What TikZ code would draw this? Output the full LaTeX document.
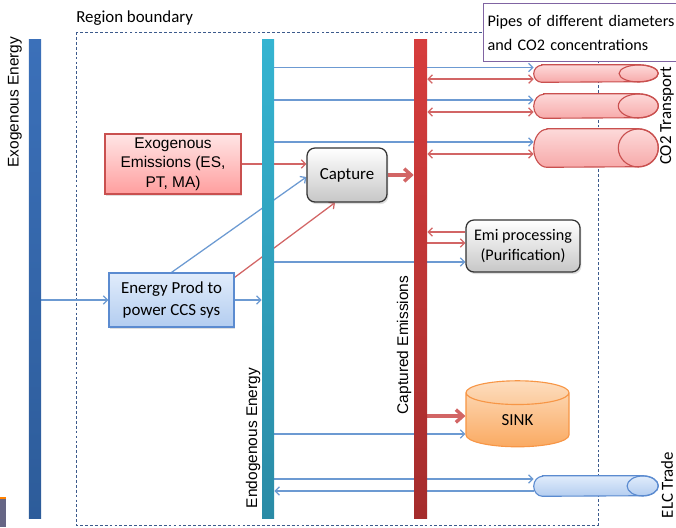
\documentclass[tikz,border=0pt]{standalone}
\usepackage{fontspec}
\setmainfont{Carlito}
\newfontfamily\arialfont{Liberation Sans}
\usetikzlibrary{
  arrows.meta,
  shapes.geometric,
  shadows,
  backgrounds
}

\definecolor{exoblue}{HTML}{3B70B9}
\definecolor{exobluedk}{HTML}{2D5C9A}
\definecolor{endocyan}{HTML}{35B4D1}
\definecolor{endocyandk}{HTML}{2A8BA6}
\definecolor{capred}{HTML}{D63D3D}
\definecolor{capreddk}{HTML}{A52C2C}
\definecolor{lineblue}{HTML}{6C9AD2}
\definecolor{linered}{HTML}{D26565}
\definecolor{pipetop}{HTML}{FDDADA}
\definecolor{pipebot}{HTML}{F7A9A9}
\definecolor{pipeedge}{HTML}{C9504F}
\definecolor{elctop}{HTML}{E1ECFB}
\definecolor{elcbot}{HTML}{B3CDF0}
\definecolor{elcedge}{HTML}{5B8BD0}
\definecolor{sinktop}{HTML}{FDDDBE}
\definecolor{sinkbot}{HTML}{FAAA62}
\definecolor{sinkedge}{HTML}{F79646}
\definecolor{notepurple}{HTML}{8064A2}
\definecolor{borderblue}{HTML}{3C5A8C}

% #1 node, #2 y radius, #3 left x radius, #4 end x radius, #5 fill style, #6 edge colour
\newcommand{\pipebody}[6]{%
  \path[#5, draw=#6, line width=0.8pt] ([xshift=#3]#1.north west) -- ([xshift=-#4]#1.north east)
    arc[start angle=90, end angle=-90, x radius=#4, y radius=#2]
    -- ([xshift=#3]#1.south west)
    arc[start angle=270, end angle=90, x radius=#3, y radius=#2] -- cycle;
  \draw[#6, line width=0.8pt] ([xshift=-#4]#1.east) ellipse [x radius=#4, y radius=#2];
}

\tikzset{
  bar/.style={inner sep=0pt, minimum width=0.3cm, minimum height=11.95cm},
  barlabel/.style={rotate=90, font=\arialfont\fontsize{11}{13}\selectfont},
  blueline/.style={draw=lineblue, line width=0.9pt},
  redline/.style={draw=linered, line width=0.9pt},
  fatred/.style={draw=linered, line width=2.4pt,
    -{Straight Barb[length=5pt,width=9pt]}},
  greybox/.style={draw=black!80, line width=0.9pt, rounded corners=0.2cm,
    top color=white, bottom color=black!22,
    drop shadow={opacity=0.25,shadow xshift=1pt,shadow yshift=-1.5pt},
    font=\fontsize{11.5}{14}\selectfont, align=center},
  pipe/.style={inner sep=0pt, minimum width=3.1cm},
  redfill/.style={top color=pipetop, bottom color=pipebot},
  bluefill/.style={top color=elctop, bottom color=elcbot}
}

\begin{document}
\begin{tikzpicture}[x=0.025cm,y=-0.025cm,>={Straight Barb[length=3pt,width=6pt]}]
  \useasboundingbox (0,0) rectangle (676,527);
  \node[anchor=west, inner sep=0pt, font=\fontsize{12}{14}\selectfont]
    (regionlbl) at (76,18) {Region boundary};
  \node[anchor=north west, draw=notepurple, line width=0.8pt, fill=white,
    inner xsep=0.1cm, text width=6cm, minimum height=1.45cm, align=left,
    font=\fontsize{11.5}{17}\selectfont]
    (pipenote) at (483,3) {Pipes of different diameters\\and CO2 concentrations};

  \node[bar, top color=exoblue, bottom color=exobluedk] (exo) at (35,279) {};
  \node[bar, top color=endocyan, bottom color=endocyandk] (endo) at (268,279) {};
  \node[bar, minimum width=0.325cm, top color=capred, bottom color=capreddk]
    (capt) at (420.5,279) {};
  \node[barlabel] (exolbl) at (15,102) {Exogenous Energy};
  \node[barlabel] (endolbl) at (253,438) {Endogenous Energy};
  \node[barlabel] (captlbl) at (404,345) {Captured Emissions};
  \node[rotate=90, font=\fontsize{12}{14}\selectfont] (co2lbl) at (667,116) {CO2 Transport};
  \node[rotate=90, font=\fontsize{12}{14}\selectfont] (elclbl) at (667,485) {ELC Trade};

  \node[draw=pipeedge, line width=0.8pt, top color=red!10, bottom color=red!38,
    minimum width=3.4cm, minimum height=1.5cm, inner sep=1pt, align=center,
    drop shadow={opacity=0.25,shadow xshift=1pt,shadow yshift=-1.5pt},
    font=\arialfont\fontsize{11}{14}\selectfont]
    (exoem) at (173,164) {Exogenous\\Emissions (ES,\\PT, MA)};
  \node[greybox, minimum width=2cm, minimum height=1.35cm,
    font=\fontsize{12}{14}\selectfont] (capture) at (347,175) {Capture};
  \node[draw=elcedge, line width=0.8pt, top color=elctop, bottom color=elcbot,
    minimum width=3.125cm, minimum height=1.35cm, inner sep=1pt, align=center,
    drop shadow={opacity=0.25,shadow xshift=1pt,shadow yshift=-1.5pt},
    font=\fontsize{12}{15}\selectfont]
    (enprod) at (171.5,300) {Energy Prod to\\power CCS sys};
  \node[greybox, minimum width=2.85cm, minimum height=1.3cm] (emiproc) at (523,246)
    {Emi processing\\(Purification)};
  \node[cylinder, shape border rotate=90, aspect=0.75, draw=sinkedge, line width=0.8pt,
    top color=sinktop, bottom color=sinkbot, minimum width=2.575cm, minimum height=1.65cm,
    inner sep=0pt, font=\fontsize{12}{14}\selectfont] (sink) at (517.5,420) {SINK};

  \node[pipe, minimum height=0.425cm] (pipeA) at (596,73.5) {};
  \node[pipe, minimum height=0.6cm] (pipeB) at (596,106) {};
  \node[pipe, minimum height=0.95cm] (pipeC) at (596,148) {};
  \node[pipe, minimum height=0.5cm] (elc) at (596,486) {};
  \pipebody{pipeA}{0.2125cm}{0.2cm}{0.49cm}{redfill}{pipeedge}
  \pipebody{pipeB}{0.3cm}{0.25cm}{0.5cm}{redfill}{pipeedge}
  \pipebody{pipeC}{0.475cm}{0.33cm}{0.5cm}{redfill}{pipeedge}
  \pipebody{elc}{0.25cm}{0.22cm}{0.39cm}{bluefill}{elcedge}

  \fill[black!80!blue!60] (0,499) rectangle (6,527);
  \draw[orange, line width=1pt] (0,498) -- (6,498);

  \begin{scope}[on background layer]
    \draw[borderblue, line width=0.6pt, dash pattern=on 2pt off 1.5pt] (76,32) rectangle (598,525);
    \draw[blueline,->] ([yshift=0.15cm]endo.east |- pipeA.west) -- ([yshift=0.15cm]pipeA.west);
    \draw[blueline,->] ([yshift=0.15cm]endo.east |- pipeB.west) -- ([yshift=0.15cm]pipeB.west);
    \draw[blueline,->] ([yshift=0.15cm]endo.east |- pipeC.west) -- ([yshift=0.15cm]pipeC.west);
    \draw[redline,<->] ([yshift=-0.14cm]capt.east |- pipeA.west) -- ([yshift=-0.14cm]pipeA.west);
    \draw[redline,<->] ([yshift=-0.15cm]capt.east |- pipeB.west) -- ([yshift=-0.15cm]pipeB.west);
    \draw[redline,<->] ([yshift=-0.15cm]capt.east |- pipeC.west) -- ([yshift=-0.15cm]pipeC.west);
    \draw[redline,->] (exoem.east) -- (capture.west |- exoem.east);
    \draw[fatred] (capture.east) -- (capture.east -| capt.west);
    \draw[blueline,->] (enprod.north) -- ([yshift=-0.05cm]capture.west);
    \draw[redline,->] ([yshift=-0.125cm]enprod.north east) -- ([xshift=-0.3cm]capture.south);
    \draw[blueline,->] (exo.east |- enprod.west) -- (enprod.west);
    \draw[blueline,->] (enprod.east) -- (enprod.east -| endo.west);
    \draw[redline,->] ([yshift=0.35cm]emiproc.west) -- ([yshift=0.35cm]capt.east |- emiproc.west);
    \draw[redline,->] ([yshift=0.075cm]capt.east |- emiproc.west) -- ([yshift=0.075cm]emiproc.west);
    \draw[blueline,->] ([yshift=-0.4cm]endo.east |- emiproc.west) -- ([yshift=-0.4cm]emiproc.west);
    \draw[fatred] ([yshift=0.1cm]capt.east |- sink.west) -- ([yshift=0.1cm]sink.west);
    \draw[blueline,->] ([yshift=-0.35cm]endo.east |- sink.west) -- ([yshift=-0.35cm]sink.west);
    \draw[blueline,->] ([yshift=0.175cm]endo.east |- elc.west) -- ([yshift=0.175cm]elc.west);
    \draw[blueline,->] ([yshift=-0.125cm]elc.west) -- ([yshift=-0.125cm]endo.east |- elc.west);
  \end{scope}
\end{tikzpicture}
\end{document}
